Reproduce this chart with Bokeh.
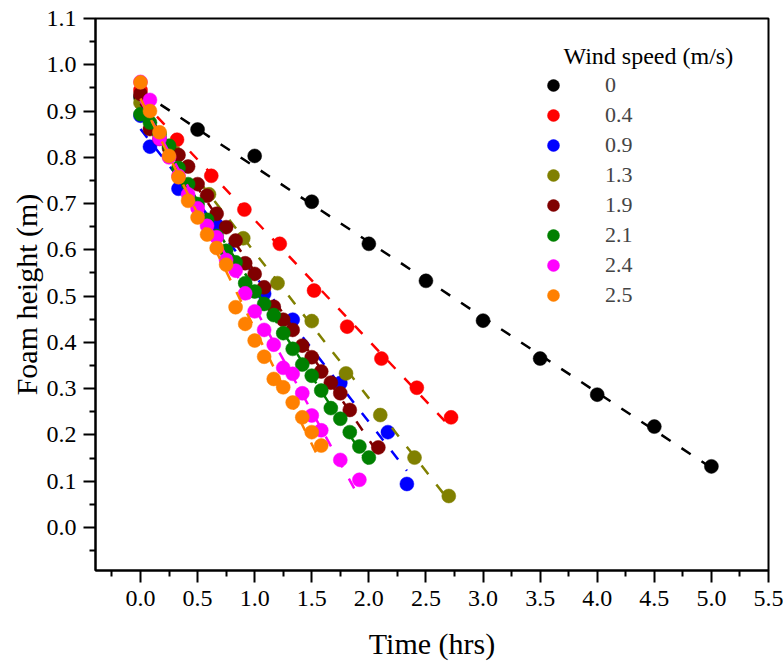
import numpy as np
from bokeh.plotting import figure
from bokeh.models import Range1d, FixedTicker, PrintfTickFormatter, Legend, LegendItem, Label
from bokeh.embed import file_html
from bokeh.resources import INLINE

# ---- data ----
wind_labels = ["0", "0.4", "0.9", "1.3", "1.9", "2.1", "2.4", "2.5"]
colors = ["#000000", "#FF0000", "#0000FF", "#808000", "#800000", "#008000", "#FF00FF", "#FF8000"]
legend_title = "Wind speed (m/s)"

t_0 = [0, 0.5, 1.0, 1.5, 2.0, 2.5, 3.0, 3.5, 4.0, 4.5, 5.0]
h_0 = [0.93, 0.86, 0.803, 0.704, 0.613, 0.533, 0.447, 0.365, 0.287, 0.218, 0.132]

t_04 = [0, 0.32, 0.62, 0.91, 1.22, 1.52, 1.81, 2.11, 2.42, 2.72]
h_04 = [0.945, 0.838, 0.76, 0.687, 0.613, 0.512, 0.434, 0.365, 0.302, 0.238]

t_09 = [0, 0.083, 0.333, 0.667, 1.083, 1.333, 1.75, 2.167, 2.333]
h_09 = [0.89, 0.823, 0.732, 0.654, 0.505, 0.449, 0.312, 0.206, 0.094]

t_13 = [0, 0.3, 0.6, 0.9, 1.2, 1.5, 1.8, 2.1, 2.4, 2.7]
h_13 = [0.918, 0.81, 0.72, 0.625, 0.528, 0.446, 0.333, 0.243, 0.151, 0.068]

t_19 = [0, 0.083, 0.167, 0.25, 0.333, 0.417, 0.5, 0.583, 0.667, 0.75, 0.833, 0.917,
        1.0, 1.083, 1.167, 1.25, 1.333, 1.417, 1.5, 1.583, 1.667, 1.75, 1.833, 2.083]
h_19 = [0.937, 0.861, 0.84, 0.82, 0.805, 0.78, 0.742, 0.717, 0.678, 0.649, 0.62, 0.571,
        0.548, 0.519, 0.477, 0.449, 0.427, 0.393, 0.368, 0.337, 0.313, 0.29, 0.254, 0.173]

t_21 = [0, 0.083, 0.167, 0.25, 0.333, 0.417, 0.5, 0.583, 0.667, 0.75, 0.833, 0.917,
        1.0, 1.083, 1.167, 1.25, 1.333, 1.417, 1.5, 1.583, 1.667, 1.75, 1.833, 1.917, 2.0]
h_21 = [0.893, 0.875, 0.85, 0.825, 0.777, 0.742, 0.699, 0.665, 0.63, 0.598, 0.573, 0.528,
        0.51, 0.483, 0.459, 0.42, 0.386, 0.352, 0.328, 0.296, 0.258, 0.235, 0.206, 0.175, 0.151]

t_24 = [0, 0.083, 0.167, 0.25, 0.333, 0.417, 0.5, 0.583, 0.667, 0.75, 0.833, 0.917,
        1.0, 1.083, 1.167, 1.25, 1.333, 1.417, 1.5, 1.583, 1.75, 1.917]
h_24 = [0.963, 0.924, 0.84, 0.80, 0.76, 0.72, 0.69, 0.652, 0.627, 0.578, 0.555, 0.506,
        0.467, 0.427, 0.395, 0.345, 0.332, 0.29, 0.242, 0.21, 0.146, 0.103]

t_25 = [0, 0.083, 0.167, 0.25, 0.333, 0.417, 0.5, 0.583, 0.667, 0.75, 0.833, 0.917,
        1.0, 1.083, 1.167, 1.25, 1.333, 1.417, 1.5, 1.583]
h_25 = [0.962, 0.90, 0.854, 0.803, 0.757, 0.706, 0.67, 0.633, 0.604, 0.568, 0.476, 0.44,
        0.404, 0.369, 0.321, 0.303, 0.27, 0.238, 0.206, 0.177]

series_t = [t_0, t_04, t_09, t_13, t_19, t_21, t_24, t_25]
series_h = [h_0, h_04, h_09, h_13, h_19, h_21, h_24, h_25]

x_major = [0.0, 0.5, 1.0, 1.5, 2.0, 2.5, 3.0, 3.5, 4.0, 4.5, 5.0, 5.5]
x_minor = [-0.25, 0.25, 0.75, 1.25, 1.75, 2.25, 2.75, 3.25, 3.75, 4.25, 4.75, 5.25]
y_major = [0.0, 0.1, 0.2, 0.3, 0.4, 0.5, 0.6, 0.7, 0.8, 0.9, 1.0, 1.1]
y_minor = [-0.05, 0.05, 0.15, 0.25, 0.35, 0.45, 0.55, 0.65, 0.75, 0.85, 0.95, 1.05]

FONT = "Liberation Serif"

p = figure(width=783, height=662, output_backend="svg", toolbar_location=None,
           x_range=Range1d(-0.394, 5.5), y_range=Range1d(-0.093, 1.1),
           min_border_left=95, min_border_right=15, min_border_top=18, min_border_bottom=92,
           x_axis_label="Time (hrs)", y_axis_label="Foam height (m)")
p.xgrid.visible = False
p.ygrid.visible = False
p.outline_line_color = "black"
p.outline_line_width = 2
p.background_fill_color = "white"
p.border_fill_color = "white"

p.xaxis.ticker = FixedTicker(ticks=x_major, minor_ticks=x_minor)
p.yaxis.ticker = FixedTicker(ticks=y_major, minor_ticks=y_minor)
for ax in (p.xaxis, p.yaxis):
    ax.formatter = PrintfTickFormatter(format="%.1f")
    ax.axis_line_width = 2
    ax.axis_line_color = "black"
    ax.major_tick_line_width = 2
    ax.minor_tick_line_width = 2
    ax.major_tick_line_color = "black"
    ax.minor_tick_line_color = "black"
    ax.major_tick_out = 12
    ax.major_tick_in = 0
    ax.minor_tick_out = 6
    ax.minor_tick_in = 0
    ax.major_label_text_font = FONT
    ax.major_label_text_font_size = "24px"
    ax.major_label_text_color = "black"
    ax.axis_label_text_font = FONT
    ax.axis_label_text_font_size = "30px"
    ax.axis_label_text_font_style = "normal"
    ax.axis_label_text_color = "black"
p.xaxis.major_label_standoff = 8
p.yaxis.major_label_standoff = 7
p.xaxis.axis_label_standoff = 18
p.yaxis.axis_label_standoff = 1

items = []
for t, h, c, lab in zip(series_t, series_h, colors, wind_labels):
    t_arr = np.array(t)
    m, b = np.polyfit(t_arr, np.array(h), 1)
    xs = [t_arr.min(), t_arr.max()]
    p.line(xs, [m * xs[0] + b, m * xs[1] + b], line_color=c, line_width=2.5, line_dash="11 13")
    r = p.scatter(t, h, size=14, fill_color=c, line_color=c, line_width=0.5)
    items.append(LegendItem(label=lab, renderers=[r]))

legend = Legend(items=items, location=(443, 260),
                label_text_font=FONT, label_text_font_size="22px",
                glyph_width=30, glyph_height=30, spacing=0, label_standoff=37,
                padding=0, margin=0, border_line_color=None, background_fill_alpha=0)
p.add_layout(legend)

title_lbl = Label(x=468, y=515, x_units="screen", y_units="screen", text=legend_title,
                  text_font=FONT, text_font_size="24px", text_baseline="middle",
                  text_align="left", text_color="black")
p.add_layout(title_lbl)

open("out.html", "w").write(file_html(p, INLINE))
